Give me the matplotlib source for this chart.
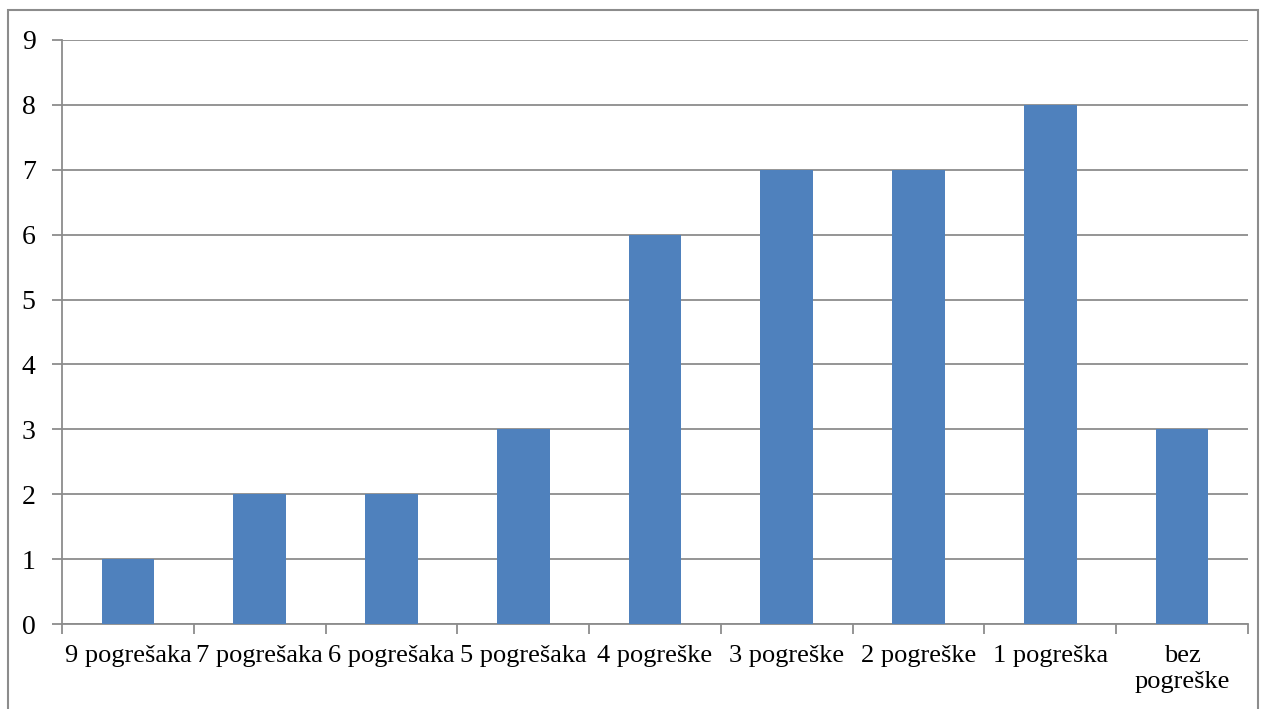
import matplotlib.pyplot as plt
from matplotlib.patches import Rectangle

categories = ['9 pogrešaka', '7 pogrešaka', '6 pogrešaka', '5 pogrešaka', '4 pogreške',
              '3 pogreške', '2 pogreške', '1 pogreška', 'bez\npogreške']
values = [1, 2, 2, 3, 6, 7, 7, 8, 3]

plt.rcParams['font.family'] = ['Liberation Serif', 'DejaVu Serif']

W, H = 1266, 709
fig = plt.figure(figsize=(W / 100, H / 100), dpi=100)
ax = fig.add_axes([62 / W, 1 - 624 / H, (1248 - 62) / W, (624 - 40) / H])

# outer frame (cut off at the bottom)
fig.patches.append(Rectangle((8 / W, -0.05), (1258 - 8) / W, 1 - 10 / H + 0.05,
                             transform=fig.transFigure, fill=False,
                             edgecolor='#8c8c8c', linewidth=1.5))

x = range(len(values))
ax.bar(x, values, width=0.4, color='#4F81BD', zorder=3)

ax.set_xlim(-0.5, len(values) - 0.5)
ax.set_ylim(0, 9)
ax.set_yticks(range(0, 10))
ax.yaxis.grid(True, color='#8c8c8c', linewidth=1.3, zorder=0)

ax.set_xticks([i - 0.5 for i in range(len(values) + 1)])
ax.set_xticklabels([])
ax.set_xticks(list(x), minor=True)
ax.set_xticklabels(categories, minor=True, fontsize=19, linespacing=1.25)
ax.tick_params(axis='x', which='minor', length=0, pad=15)
ax.tick_params(axis='x', which='major', length=7, color='#8c8c8c', width=1.3)
ax.tick_params(axis='y', length=7, color='#8c8c8c', width=1.3, labelsize=20, pad=12)

for s in ['top', 'right']:
    ax.spines[s].set_visible(False)
for s in ['left', 'bottom']:
    ax.spines[s].set_color('#8c8c8c')
    ax.spines[s].set_linewidth(1.3)

fig.savefig('out.png', dpi=100)
